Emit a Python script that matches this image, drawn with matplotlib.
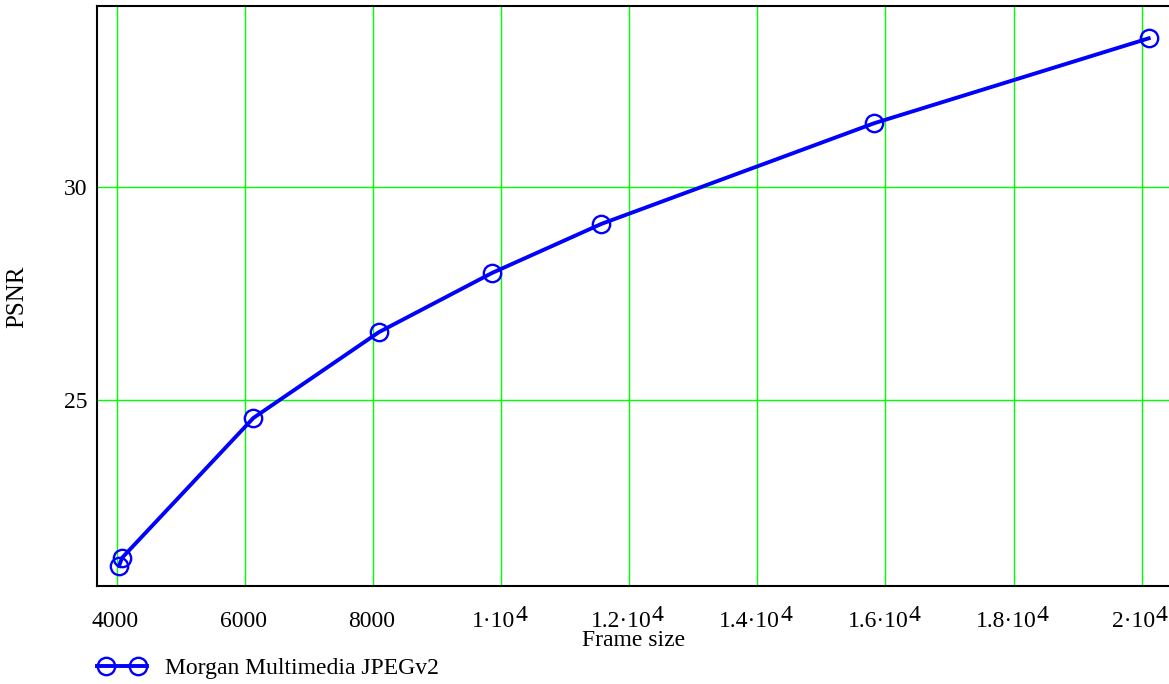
import matplotlib
matplotlib.use("Agg")
import matplotlib.pyplot as plt
from matplotlib.legend_handler import HandlerLine2D, HandlerTuple

plt.rcParams['font.family'] = ['Liberation Serif', 'DejaVu Serif']

# data
frame_size = [4036, 4083, 6134, 8091, 9860, 11567, 15825, 20110]
psnr = [21.11, 21.30, 24.58, 26.59, 27.98, 29.13, 31.49, 33.48]
series_name = "Morgan Multimedia JPEGv2"
x_ticks = [4000, 6000, 8000, 10000, 12000, 14000, 16000, 18000, 20000]
x_tick_mantissa = ["4000", "6000", "8000", "1\u00b710", "1.2\u00b710",
                   "1.4\u00b710", "1.6\u00b710", "1.8\u00b710", "2\u00b710"]
x_tick_exponent = ["", "", "", "4", "4", "4", "4", "4", "4"]
y_ticks = [25, 30]
y_tick_labels = ["25", "30"]

W, H = 1169, 684
DPI = 100
fig = plt.figure(figsize=(W / DPI, H / DPI), dpi=DPI)
left, right, top, bottom = 97, 1172, 5.5, 586
ax = fig.add_axes([left / W, 1 - bottom / H, (right - left) / W, (bottom - top) / H])

LINE_C = '#0000FF'
ax.plot(frame_size, psnr, color=LINE_C, lw=2.8, zorder=3)
ax.plot(frame_size, psnr, ls='none', marker='o', ms=12.5, mfc='none', mec=LINE_C,
        mew=1.7, zorder=4)

ax.set_xlim(3692, 20474)
ax.set_ylim(20.64, 34.25)
ax.set_xticks(x_ticks)
ax.set_xticklabels([])
ax.set_yticks(y_ticks)
ax.set_yticklabels(y_tick_labels)
ax.grid(True, color='#00FF00', lw=1.0)
ax.set_axisbelow(True)
ax.tick_params(axis='both', length=0, labelsize=17)
ax.tick_params(axis='y', pad=7)
for s in ax.spines.values():
    s.set_linewidth(1.5)
    s.set_color('black')
ax.spines['right'].set_visible(False)

FS = 17
FAM = ['Liberation Serif', 'DejaVu Serif']
renderer = fig.canvas.get_renderer()


def text_width_pt(s):
    if not s:
        return 0.0
    t = fig.text(0, 0, s, fontsize=FS, family=FAM)
    w = t.get_window_extent(renderer).width
    t.remove()
    return w * 72.0 / DPI


base_off = -29.5   # points below axes bottom (baseline)
sup_raise = 4.2    # points
shift = -1.2       # points
for t, m, e in zip(x_ticks, x_tick_mantissa, x_tick_exponent):
    wm = text_width_pt(m)
    we = text_width_pt(e)
    ax.annotate(m, xy=(t, 0), xycoords=('data', 'axes fraction'),
                xytext=(-we / 2 + shift, base_off), textcoords='offset points',
                ha='center', va='baseline', fontsize=FS, family=FAM,
                annotation_clip=False)
    if e:
        ax.annotate(e, xy=(t, 0), xycoords=('data', 'axes fraction'),
                    xytext=(wm / 2 - we / 2 + shift, base_off + sup_raise),
                    textcoords='offset points', ha='left', va='baseline',
                    fontsize=FS, family=FAM, annotation_clip=False)

fig.text(634 / W, 1 - 646 / H, "Frame size", ha='center', va='baseline', fontsize=17)
fig.text(17.5 / W, 1 - 297 / H, "PSNR", ha='center', va='center', rotation=90, fontsize=18)

h_line = plt.Line2D([], [], color=LINE_C, lw=2.8)
h_mark = plt.Line2D([], [], ls='none', marker='o', ms=12.5, mfc='none', mec=LINE_C, mew=1.7)
leg = fig.legend([(h_line, h_mark)], [series_name], loc='center left',
                 bbox_to_anchor=(97 / W, 1 - 668 / H), frameon=False, fontsize=17,
                 handlelength=2.12, handletextpad=0.76, borderpad=0, borderaxespad=0,
                 handler_map={h_line: HandlerLine2D(numpoints=1),
                              h_mark: HandlerLine2D(numpoints=2, marker_pad=0.4),
                              tuple: HandlerTuple(ndivide=1)})

fig.savefig("out.png", dpi=DPI)
